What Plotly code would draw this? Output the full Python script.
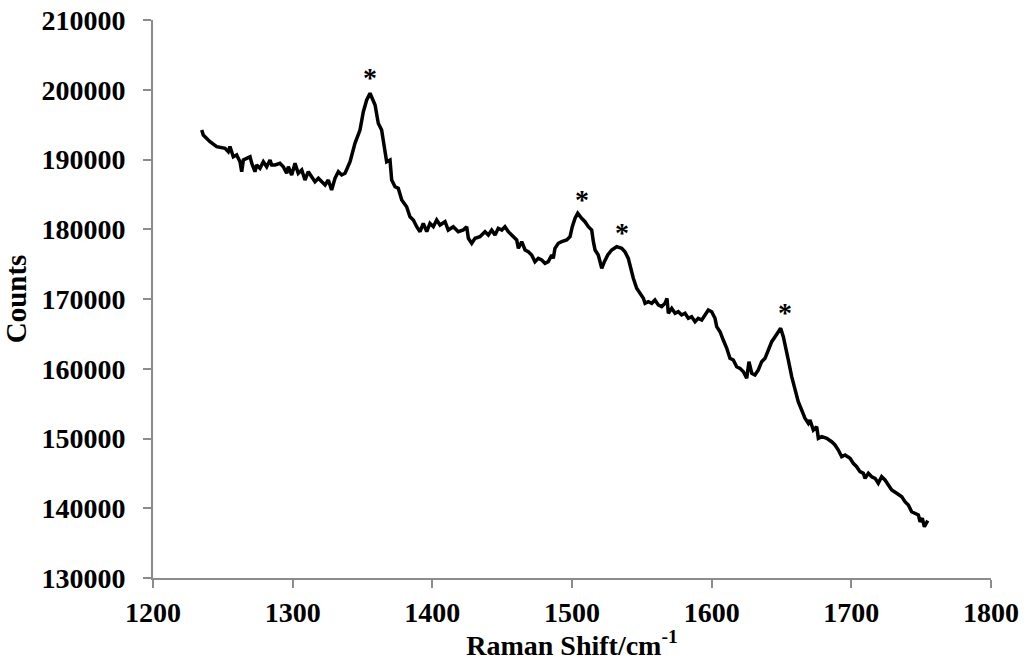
import plotly.graph_objects as go

# Raman spectrum (shift in cm-1, detector counts)
raman_shift = [
    1234.9, 1236.0, 1240.8, 1245.6, 1251.6, 1253.9, 1255.1, 1257.5, 1259.9, 1262.3,
    1263.5, 1264.7, 1267.1, 1269.5, 1270.7, 1273.0, 1274.2, 1276.6, 1279.0, 1281.4,
    1283.8, 1285.0, 1287.4, 1290.9, 1293.3, 1295.7, 1296.9, 1299.3, 1301.7, 1304.0,
    1306.5, 1308.8, 1311.2, 1313.6, 1316.0, 1318.4, 1320.8, 1323.2, 1325.5, 1327.9,
    1330.3, 1332.7, 1335.1, 1337.5, 1341.1, 1344.6, 1348.2, 1350.6, 1353.0, 1355.4,
    1359.0, 1361.3, 1363.7, 1366.1, 1367.3, 1369.7, 1370.9, 1373.3, 1375.6, 1378.1,
    1381.6, 1384.0, 1386.4, 1388.8, 1391.2, 1393.5, 1396.0, 1398.3, 1400.7, 1403.1,
    1405.5, 1409.1, 1411.4, 1415.0, 1418.6, 1422.2, 1424.6, 1425.8, 1428.2, 1430.6,
    1434.1, 1437.7, 1440.1, 1442.5, 1444.9, 1447.2, 1449.7, 1452.0, 1454.4, 1456.8,
    1460.4, 1461.6, 1464.0, 1466.4, 1468.7, 1471.1, 1473.5, 1475.9, 1478.3, 1480.7,
    1483.0, 1485.5, 1486.6, 1487.8, 1490.2, 1492.6, 1496.2, 1498.6, 1500.2, 1502.2,
    1504.1, 1506.9, 1509.3, 1511.7, 1514.1, 1515.3, 1516.5, 1518.8, 1521.3, 1523.2,
    1525.6, 1528.4, 1532.0, 1535.6, 1537.9, 1540.3, 1542.0, 1543.9, 1546.3, 1548.7,
    1551.1, 1552.3, 1554.6, 1557.1, 1559.4, 1561.8, 1564.2, 1566.6, 1568.0, 1569.0,
    1571.4, 1573.8, 1576.1, 1578.5, 1580.9, 1583.3, 1585.7, 1588.1, 1590.4, 1592.9,
    1595.2, 1597.6, 1600.0, 1602.4, 1603.6, 1606.0, 1608.3, 1610.8, 1613.1, 1615.5,
    1617.9, 1620.3, 1622.7, 1625.1, 1626.7, 1628.7, 1631.0, 1633.4, 1635.8, 1638.2,
    1640.6, 1643.0, 1645.4, 1647.7, 1649.4, 1651.3, 1653.0, 1654.9, 1657.3, 1662.0,
    1666.8, 1669.2, 1670.4, 1672.8, 1675.2, 1676.4, 1678.8, 1682.4, 1685.9, 1688.3,
    1690.7, 1693.1, 1695.5, 1699.1, 1701.4, 1703.8, 1706.2, 1708.6, 1709.8, 1712.2,
    1714.6, 1717.0, 1719.3, 1721.7, 1724.1, 1726.5, 1728.9, 1732.5, 1736.1, 1738.4,
    1740.8, 1743.2, 1745.6, 1748.0, 1749.2, 1750.8, 1752.3, 1754.7,
]
counts = [
    194230, 193500, 192550, 191850, 191610, 191120, 191840, 190400, 190650, 189680,
    188250, 189930, 190170, 190400, 189450, 188250, 189210, 188740, 189680, 188970,
    189930, 189210, 189210, 189450, 188970, 188020, 188970, 187780, 189450, 188020,
    188490, 187060, 188250, 187530, 186820, 187300, 186820, 186340, 187060, 185630,
    187300, 188250, 187780, 188020, 189680, 192320, 194230, 196850, 198530, 199490,
    197810, 195190, 194230, 191120, 189680, 189930, 187060, 186100, 185870, 184190,
    183230, 181800, 181330, 180370, 179650, 180850, 179650, 180850, 180370, 181330,
    180610, 181080, 179890, 180370, 179650, 179890, 180370, 178700, 177990, 178700,
    178930, 179650, 179180, 179890, 179180, 180140, 179890, 180370, 179650, 179180,
    178460, 177270, 178220, 177030, 176780, 176310, 175350, 175830, 175590, 175120,
    175350, 176310, 175830, 177270, 177990, 178220, 178460, 178930, 180370, 181570,
    182290, 181570, 181080, 180370, 179890, 178220, 177030, 176310, 174400, 175350,
    176310, 177030, 177500, 177270, 176780, 175830, 174400, 172970, 171530, 170820,
    170100, 169380, 169610, 169380, 169860, 169140, 168900, 169380, 170100, 167950,
    168670, 167950, 168180, 167710, 167950, 167230, 167460, 166750, 167230, 166990,
    167710, 168420, 168180, 167230, 166030, 165310, 164120, 162930, 161500, 161250,
    160290, 160060, 159580, 158630, 161010, 159350, 159100, 159820, 161010, 161500,
    162690, 163880, 164600, 165310, 165800, 164600, 163160, 161250, 158860, 155280,
    152900, 152180, 152650, 151220, 151690, 150030, 150260, 150030, 149540, 149070,
    148350, 147390, 147630, 147160, 146440, 145960, 145240, 145010, 144290, 145010,
    144520, 144290, 143580, 144520, 144050, 143330, 142620, 142140, 141660, 140940,
    140470, 139500, 139280, 139030, 138070, 138560, 137350, 138220,
]

# Marked bands: position of each asterisk
mark_shift = [1355.4, 1506.9, 1535.6, 1652.5]
mark_counts = [201800, 184300, 179600, 168000]

FONT = "Liberation Serif, Times New Roman, serif"
AXIS_GREY = "#8c8c8c"

fig = go.Figure()
fig.add_trace(go.Scatter(
    x=raman_shift, y=counts, mode="lines",
    line=dict(color="black", width=3.5),
    showlegend=False, hoverinfo="skip",
))

for xs, ys in zip(mark_shift, mark_counts):
    fig.add_annotation(
        x=xs, y=ys, text="*", showarrow=False,
        font=dict(family=FONT, size=28, color="black", weight="bold"),
        xanchor="center", yanchor="middle",
    )

fig.update_layout(
    width=1027, height=661,
    margin=dict(l=153, r=36, t=20, b=83, autoexpand=False),
    paper_bgcolor="white", plot_bgcolor="white",
    font=dict(family=FONT, color="black"),
)
fig.update_xaxes(
    range=[1200, 1800], dtick=100, tick0=1200, automargin=False,
    showgrid=False, zeroline=False,
    showline=True, linecolor=AXIS_GREY, linewidth=2,
    ticks="outside", ticklen=8, tickwidth=2, tickcolor=AXIS_GREY,
    ticklabelstandoff=0,
    tickfont=dict(family=FONT, size=28, color="black", weight="bold"),
    title=dict(text="Raman Shift/cm<sup>-1</sup>", standoff=10,
               font=dict(family=FONT, size=28, color="black", weight="bold")),
)
fig.update_yaxes(
    range=[130000, 210000], dtick=10000, tick0=130000, tickformat="d",
    automargin=False,
    showgrid=False, zeroline=False,
    showline=True, linecolor=AXIS_GREY, linewidth=2,
    ticks="outside", ticklen=8, tickwidth=2, tickcolor=AXIS_GREY,
    ticklabelstandoff=12,
    tickfont=dict(family=FONT, size=28, color="black", weight="bold"),
    title=dict(text="Counts", standoff=13,
               font=dict(family=FONT, size=29, color="black", weight="bold")),
)

fig.write_html("out.html")
